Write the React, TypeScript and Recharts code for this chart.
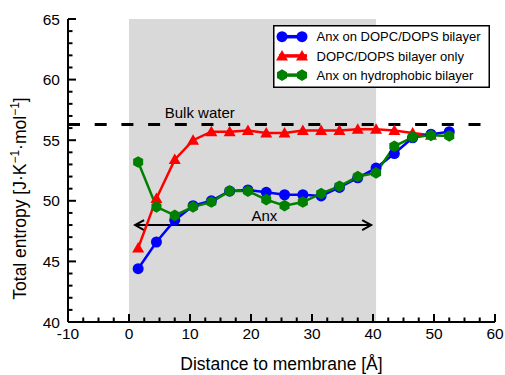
import {
  Legend,
  Line,
  LineChart,
  ReferenceArea,
  ReferenceDot,
  ReferenceLine,
  XAxis,
  YAxis,
} from "recharts";

// distance to membrane (Å)
const distance = [1.5, 4.5, 7.5, 10.5, 13.5, 16.5, 19.5, 22.5, 25.5, 28.5, 31.5, 34.5, 37.5, 40.5, 43.5, 46.5, 49.5, 52.5];

// total entropy, J/(K·mol)
const anxOnDopcDops = [44.4, 46.6, 48.4, 49.6, 50.0, 50.8, 50.9, 50.7, 50.5, 50.5, 50.4, 51.1, 51.9, 52.7, 53.9, 55.2, 55.5, 55.7];
const bilayerOnly = [46.1, 50.2, 53.4, 55.0, 55.7, 55.7, 55.8, 55.6, 55.6, 55.8, 55.8, 55.8, 55.9, 55.9, 55.8, 55.6, 55.4, null];
const anxOnHydrophobic = [53.2, 49.5, 48.8, 49.5, 49.9, 50.8, 50.8, 50.1, 49.6, 49.9, 50.6, 51.2, 52.0, 52.3, 54.5, 55.25, 55.4, 55.35];

const bulkWater = 56.3;
const anxRegion = [0, 40.5];
const anxArrow = { from: 1, to: 39.7, y: 48.0 };

const xTicks = [-10, -7.5, -5, -2.5, 0, 2.5, 5, 7.5, 10, 12.5, 15, 17.5, 20, 22.5, 25, 27.5, 30, 32.5, 35, 37.5, 40, 42.5, 45, 47.5, 50, 52.5, 55, 57.5, 60];
const xLabels = [-10, 0, 10, 20, 30, 40, 50, 60];
const yTicks = [40, 41, 42, 43, 44, 45, 46, 47, 48, 49, 50, 51, 52, 53, 54, 55, 56, 57, 58, 59, 60, 61, 62, 63, 64, 65];
const yLabels = [40, 45, 50, 55, 60, 65];

const seriesNames = ["Anx on DOPC/DOPS bilayer", "DOPC/DOPS bilayer only", "Anx on hydrophobic bilayer"];

const BLUE = "#0000ff";
const RED = "#ff0000";
const GREEN = "#008000";
const FONT = "'Liberation Sans', Arial, Helvetica, sans-serif";

const chartData = distance.map((d, i) => ({
  distance: d,
  anx: anxOnDopcDops[i],
  bilayer: bilayerOnly[i],
  hydro: anxOnHydrophobic[i],
}));

function Circle({ cx, cy, color }: { cx: number; cy: number; color: string }) {
  return <circle cx={cx} cy={cy} r={5.5} fill={color} />;
}

function Triangle({ cx, cy, color }: { cx: number; cy: number; color: string }) {
  const pts = `${cx},${cy - 6} ${cx + 6},${cy + 4.5} ${cx - 6},${cy + 4.5}`;
  return <polygon points={pts} fill={color} />;
}

function Hexagon({ cx, cy, color }: { cx: number; cy: number; color: string }) {
  const r = 5.8;
  const pts = [0, 1, 2, 3, 4, 5]
    .map((k) => {
      const a = (Math.PI / 3) * k - Math.PI / 2;
      return `${cx + r * Math.cos(a)},${cy + r * Math.sin(a)}`;
    })
    .join(" ");
  return <polygon points={pts} fill={color} />;
}

function makeDot(Shape: typeof Circle, color: string) {
  return (p: any) => {
    if (p.cx == null || p.cy == null || p.value == null) {
      return <g key={`d-${p.index}`} />;
    }
    return <Shape key={`d-${p.index}`} cx={p.cx} cy={p.cy} color={color} />;
  };
}

function BottomTick({ x, y, payload }: any) {
  const major = xLabels.includes(payload.value);
  return (
    <g>
      <line x1={x} y1={y} x2={x} y2={y - (major ? 8 : 4.5)} stroke="#000" strokeWidth={2} />
      {major && (
        <text x={x} y={y + 17} textAnchor="middle" fontSize={15.5} fill="#000" fontFamily={FONT}>
          {payload.value}
        </text>
      )}
    </g>
  );
}

function TopTick({ x, y, payload }: any) {
  const major = xLabels.includes(payload.value);
  return <line x1={x} y1={y} x2={x} y2={y + (major ? 8 : 4.5)} stroke="#000" strokeWidth={2} />;
}

function LeftTick({ x, y, payload }: any) {
  const major = yLabels.includes(payload.value);
  return (
    <g>
      <line x1={x} y1={y} x2={x + (major ? 8 : 4.5)} y2={y} stroke="#000" strokeWidth={2} />
      {major && (
        <text x={x - 8} y={y + 5.5} textAnchor="end" fontSize={15.5} fill="#000" fontFamily={FONT}>
          {payload.value}
        </text>
      )}
    </g>
  );
}

function RightTick({ x, y, payload }: any) {
  const major = yLabels.includes(payload.value);
  return <line x1={x} y1={y} x2={x - (major ? 8 : 4.5)} y2={y} stroke="#000" strokeWidth={2} />;
}

function XTitle({ viewBox }: any) {
  return (
    <text x={viewBox.x + viewBox.width / 2} y={viewBox.y + 48} textAnchor="middle" fontSize={17.5} fill="#000" fontFamily={FONT}>
      Distance to membrane [Å]
    </text>
  );
}

function YTitle({ viewBox }: any) {
  const cx = viewBox.x + 6;
  const cy = viewBox.y + viewBox.height / 2 + 28;
  return (
    <text x={cx} y={cy} transform={`rotate(-90 ${cx} ${cy})`} textAnchor="middle" fontSize={17.5} fill="#000" fontFamily={FONT}>
      Total entropy [J·K
      <tspan dy={-7} fontSize={12}>−1</tspan>
      <tspan dy={7}>·mol</tspan>
      <tspan dy={-7} fontSize={12}>−1</tspan>
      <tspan dy={7}>]</tspan>
    </text>
  );
}

function ArrowShape(props: any) {
  const { x1, y1, x2, y2 } = props;
  return (
    <g>
      <line x1={x1} y1={y1} x2={x2} y2={y2} stroke="#000" strokeWidth={2} />
      <polyline points={`${x1 + 9},${y1 - 5} ${x1},${y1} ${x1 + 9},${y1 + 5}`} fill="none" stroke="#000" strokeWidth={2} />
      <polyline points={`${x2 - 9},${y2 - 5} ${x2},${y2} ${x2 - 9},${y2 + 5}`} fill="none" stroke="#000" strokeWidth={2} />
    </g>
  );
}

function LegendBox() {
  const rows = [
    { name: seriesNames[0], color: BLUE, Shape: Circle },
    { name: seriesNames[1], color: RED, Shape: Triangle },
    { name: seriesNames[2], color: GREEN, Shape: Hexagon },
  ];
  return (
    <svg width={217} height={63} style={{ display: "block" }}>
      <rect x={0.75} y={0.75} width={215.5} height={61.5} fill="#fff" stroke="#000" strokeWidth={1.5} />
      {rows.map((row, i) => {
        const cy = 11.7 + i * 19.2;
        return (
          <g key={row.name}>
            <line x1={6} y1={cy} x2={34} y2={cy} stroke={row.color} strokeWidth={3.5} />
            <row.Shape cx={9} cy={cy} color={row.color} />
            <row.Shape cx={29} cy={cy} color={row.color} />
            <text x={43.5} y={cy + 4.7} fontSize={13} fill="#000" fontFamily={FONT}>
              {row.name}
            </text>
          </g>
        );
      })}
    </svg>
  );
}

export default function App() {
  return (
    <div style={{ position: "absolute", left: 0, top: 0, width: 505, height: 375, background: "#fff", fontFamily: FONT }}>
      <LineChart width={505} height={375} data={chartData} margin={{ top: 19, right: 10, left: 20, bottom: 0 }}>
        <ReferenceArea x1={anxRegion[0]} x2={anxRegion[1]} fill="#d9d9d9" fillOpacity={1} stroke="none" />
        <ReferenceLine y={bulkWater} stroke="#000" strokeWidth={3} strokeDasharray="12 14.7" />
        <ReferenceDot
          x={11.6}
          y={bulkWater}
          r={0}
          fill="none"
          stroke="none"
          label={{ value: "Bulk water", position: "top", offset: 6.5, fontSize: 15, fill: "#000", fontFamily: FONT }}
        />
        <ReferenceLine
          segment={[
            { x: anxArrow.from, y: anxArrow.y },
            { x: anxArrow.to, y: anxArrow.y },
          ]}
          shape={ArrowShape}
        />
        <ReferenceDot
          x={22.2}
          y={anxArrow.y}
          r={0}
          fill="none"
          stroke="none"
          label={{ value: "Anx", position: "top", offset: 4.5, fontSize: 15, fill: "#000", fontFamily: FONT }}
        />
        <XAxis
          dataKey="distance"
          type="number"
          domain={[-10, 60]}
          ticks={xTicks}
          interval={0}
          height={53}
          tickSize={0}
          tickMargin={0}
          tickLine={false}
          tick={<BottomTick />}
          axisLine={{ stroke: "#000", strokeWidth: 2 }}
          label={{ content: XTitle }}
          allowDataOverflow
        />
        <XAxis
          xAxisId="top"
          orientation="top"
          type="number"
          domain={[-10, 60]}
          ticks={xTicks}
          interval={0}
          height={0}
          tickSize={0}
          tickMargin={0}
          tickLine={false}
          tick={<TopTick />}
          axisLine={{ stroke: "#000", strokeWidth: 2 }}
          allowDataOverflow
        />
        <YAxis
          type="number"
          domain={[40, 65]}
          ticks={yTicks}
          interval={0}
          width={48}
          tickSize={0}
          tickMargin={0}
          tickLine={false}
          tick={<LeftTick />}
          axisLine={{ stroke: "#000", strokeWidth: 2 }}
          label={{ content: YTitle }}
          allowDataOverflow
        />
        <YAxis
          yAxisId="right"
          orientation="right"
          type="number"
          domain={[40, 65]}
          ticks={yTicks}
          interval={0}
          width={0}
          tickSize={0}
          tickMargin={0}
          tickLine={false}
          tick={<RightTick />}
          axisLine={{ stroke: "#000", strokeWidth: 2 }}
          allowDataOverflow
        />
        <Line
          dataKey="bilayer"
          stroke={RED}
          strokeWidth={2.5}
          dot={makeDot(Triangle, RED)}
          activeDot={false}
          isAnimationActive={false}
        />
        <Line
          dataKey="anx"
          stroke={BLUE}
          strokeWidth={2.5}
          dot={makeDot(Circle, BLUE)}
          activeDot={false}
          isAnimationActive={false}
        />
        <Line
          dataKey="hydro"
          stroke={GREEN}
          strokeWidth={2.5}
          dot={makeDot(Hexagon, GREEN)}
          activeDot={false}
          isAnimationActive={false}
        />
        <Legend
          layout="vertical"
          align="center"
          verticalAlign="middle"
          wrapperStyle={{ top: 25, left: 273, width: 217, height: 63 }}
          content={() => <LegendBox />}
        />
      </LineChart>
    </div>
  );
}
